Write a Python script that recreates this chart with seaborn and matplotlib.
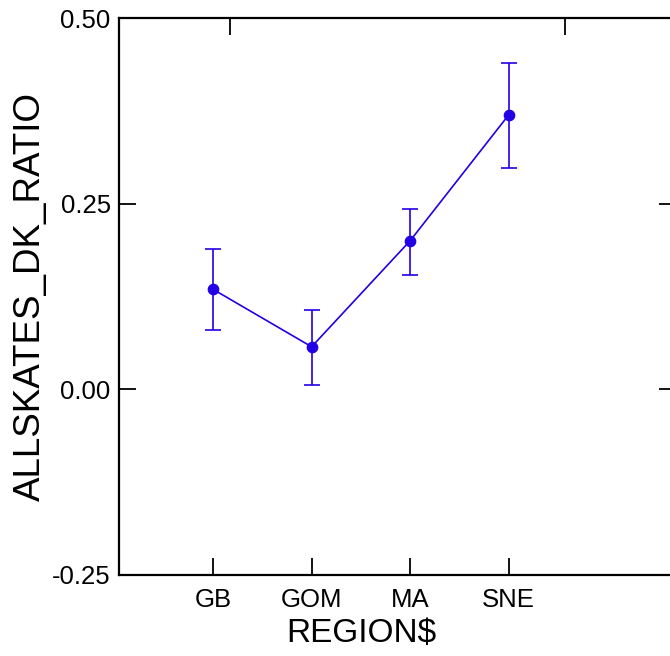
import matplotlib
matplotlib.use("Agg")
import matplotlib.pyplot as plt
import matplotlib.transforms as mtransforms
import seaborn as sns
import pandas as pd
import numpy as np

regions = ["GB", "GOM", "MA", "SNE"]
means = [0.1346, 0.0573, 0.2000, 0.3693]
lower = [0.0803, 0.0058, 0.1533, 0.2975]
upper = [0.1891, 0.1064, 0.2434, 0.4390]
y_ticks = [-0.25, 0.00, 0.25, 0.50]
y_ticklabels = ["-0.25", "0.00", "0.25", "0.50"]

sns.set_theme(style="white")
plt.rcParams["font.family"] = ["Liberation Sans", "DejaVu Sans"]
plt.rcParams["text.color"] = "black"
plt.rcParams["axes.labelcolor"] = "black"

color = "#2200E6"
df = pd.DataFrame({"REGION$": regions, "ALLSKATES_DK_RATIO": means})

fig = plt.figure(figsize=(6.70, 6.56), dpi=100)
W, H = 670, 656
ax = fig.add_axes([119 / W, (H - 575) / H, (676 - 119) / W, (575 - 18) / H])

sns.pointplot(data=df, x="REGION$", y="ALLSKATES_DK_RATIO", errorbar=None,
              color=color, markers="o", linestyles="-", ax=ax,
              markersize=7.5, linewidth=1.2)
xs = np.arange(len(regions))
m = np.array(means)
ax.errorbar(xs, m, yerr=[m - np.array(lower), np.array(upper) - m], fmt="none",
            ecolor=color, elinewidth=1.2, capsize=6, capthick=1.2, zorder=3)

ax.set_xlim(-0.956, 4.70)
ax.set_ylim(-0.25, 0.50)
ax.set_yticks(y_ticks)
ax.set_yticklabels(y_ticklabels)

for s in ax.spines.values():
    s.set_visible(True)
    s.set_color("black")
    s.set_linewidth(1.6)

ax.tick_params(axis="both", which="major", direction="in", length=12, width=1.3,
               colors="black", labelsize=18.5, left=True, bottom=True,
               labelleft=True, labelbottom=True)
ax.tick_params(axis="x", pad=9.5)
ax.tick_params(axis="y", pad=6)

sec_x = ax.secondary_xaxis("top")
sec_x.set_xticks([0.173, 3.57])
sec_x.set_xticklabels([])
sec_x.tick_params(direction="in", length=12, width=1.3, top=True, colors="black")
sec_x.spines["top"].set_visible(False)

sec_y = ax.secondary_yaxis("right")
sec_y.set_yticks([0.0, 0.25])
sec_y.set_yticklabels([])
sec_y.tick_params(direction="in", length=12, width=1.3, right=True, colors="black")
sec_y.spines["right"].set_visible(False)

ax.set_xlabel("REGION$", fontsize=24, color="black")
ax.set_ylabel("ALLSKATES_DK_RATIO", fontsize=26.5, color="black")
trans = mtransforms.blended_transform_factory(ax.transData, ax.transAxes)
ax.xaxis.set_label_coords(1.5, -0.077, transform=trans)
ax.xaxis.label.set_verticalalignment("top")
ax.yaxis.set_label_coords(-0.127, 0.5)
ax.grid(False)

fig.savefig("out.png", dpi=100)
